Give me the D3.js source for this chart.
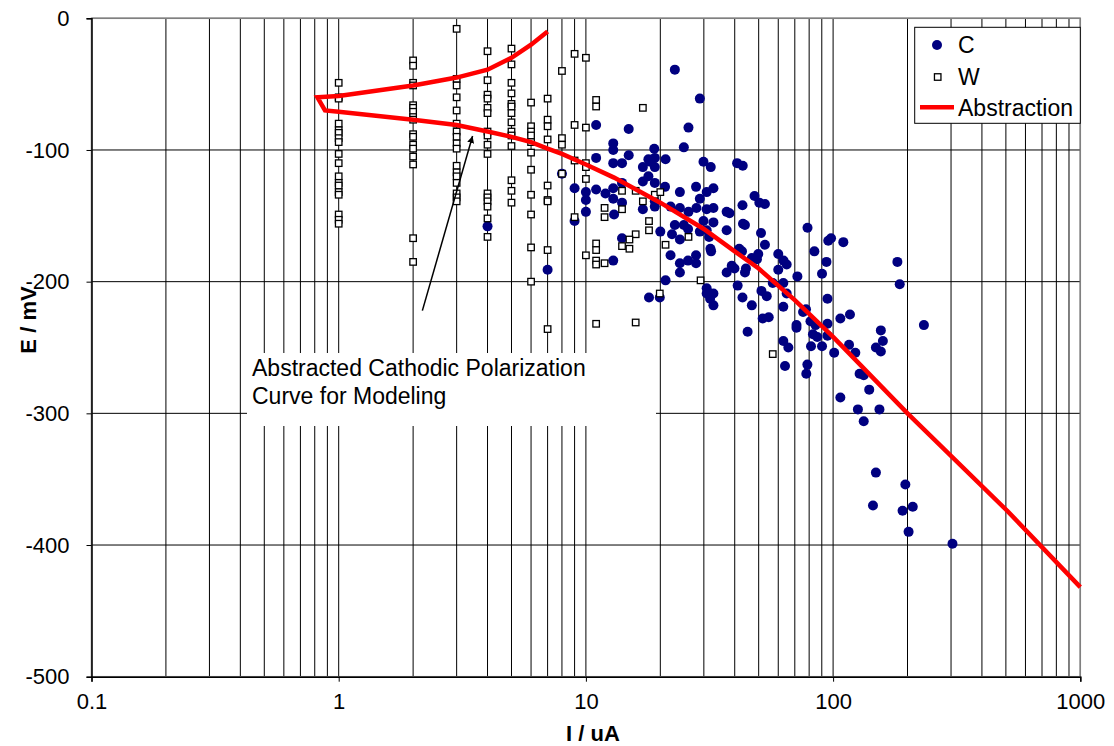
<!DOCTYPE html>
<html>
<head>
<meta charset="utf-8">
<script src="https://cdn.jsdelivr.net/npm/d3@7"></script>
<style>
    body { margin: 0; background: #fff; }
    svg { display: block; }
    text { font-family: "Liberation Sans", Arial, sans-serif; }
</style>
</head>
<body>
<svg id="chart" width="1114" height="746"></svg>
<script>
// C series: [I (uA), E (mV)]
const cPoints = [
    [4.0,-158],[7.0,-191],[8.0,-118],[9.0,-129],[9.0,-154],[10,-132],[10,-138],[10,-147],[11.0,-81],[11.0,-106],
    [11.0,-130],[12.0,-133],[12.9,-95],[12.9,-100],[12.9,-110],[14.0,-110],[14.9,-84],[14.9,-104],[18.9,-99],[24.9,-98],
    [26.0,-83],[22.9,-39],[28.9,-61],[17.9,-107],[19.0,-106],[18.2,-109],[17.0,-113],[19.0,-113],[21.0,-107],[29.9,-109],
    [32.0,-113],[40.9,-110],[43.1,-112],[17.9,-120],[17.0,-124],[19.0,-125],[20.9,-128],[27.9,-128],[32.8,-129],[24.0,-132],
    [30.8,-132],[28.9,-137],[12.9,-129],[12.9,-137],[14.0,-125],[14.0,-140],[13.0,-149],[17.0,-145],[19.0,-139],[19.0,-143],
    [22.0,-143],[24.0,-144],[26.0,-147],[28.0,-144],[30.8,-145],[32.8,-144],[37.1,-147],[38.1,-148],[43.0,-142],[48.1,-135],
    [50.3,-140],[53.0,-141],[43.2,-156],[44.0,-157],[51.1,-163],[53.0,-172],[29.9,-154],[32.8,-155],[22.9,-157],[24.9,-157],
    [25.9,-160],[22.3,-164],[24.0,-168],[28.9,-162],[30.8,-161],[31.5,-166],[37.1,-161],[20.0,-162],[14.0,-167],[31.9,-175],
    [32.1,-177],[41.7,-175],[42.8,-177],[49.8,-179],[46.9,-182],[49.2,-183],[60.0,-179],[63.0,-184],[64.9,-187],[22.0,-180],
    [24.0,-186],[24.0,-193],[27.9,-180],[25.9,-184],[27.9,-186],[12.9,-184],[38.9,-188],[39.9,-190],[37.1,-193],[44.4,-190],
    [44.0,-193],[60.0,-191],[71.7,-196],[90.2,-194],[94.0,-185],[84.0,-177],[78.8,-159],[95.6,-169],[98.1,-167],[110,-170],
    [62.9,-201],[64.9,-209],[57.0,-201],[51.3,-207],[41.1,-203],[43.0,-212],[30.8,-205],[30.8,-209],[32.8,-209],[31.8,-213],
    [32.8,-218],[21.0,-199],[18.0,-212],[19.9,-212],[94.9,-213],[53.9,-211],[46.9,-218],[51.9,-228],[54.9,-227],[62.9,-219],
    [75.6,-223],[77.7,-221],[45.1,-238],[71.1,-233],[71.1,-235],[81.0,-230],[84.9,-233],[82.9,-240],[86.3,-242],[94.9,-232],
    [94.9,-241],[107,-228],[117,-225],[62.9,-245],[65.9,-250],[63.9,-264],[81.4,-249],[90.2,-249],[78.7,-263],[77.9,-270],
    [101,-254],[116,-248],[123,-254],[149,-250],[156,-237],[159,-245],[156,-253],[128,-270],[133,-271],[140,-282],
    [107,-288],[126,-297],[154,-297],[133,-306],[149,-345],[196,-354],[145,-370],[191,-374],[210,-371],[202,-390],
    [304,-399],[182,-185],[186,-202],[233,-233]
];

// W series: most readings sit on whole-number currents
const wColumns = [1, 2, 3, 4, 5, 6, 7, 8, 9, 10];
const wColumnE = [
    [-49,-60,-61,-80,-85,-87,-91,-94,-103,-110,-120,-125,-127,-132,-134,-149,-153,-156],
    [-32,-36,-49,-51,-66,-68,-71,-75,-77,-88,-90,-96,-99,-105,-111,-167,-185],
    [-8,-46,-51,-60,-70,-80,-86,-90,-95,-99,-112,-117,-120,-125,-133,-136,-139],
    [-25,-47,-58,-61,-68,-72,-86,-89,-96,-103,-133,-136,-139,-143,-152,-166],
    [-23,-35,-49,-57,-65,-67,-72,-79,-86,-89,-97,-123,-131,-140],
    [-64,-82,-86,-89,-94,-102,-115,-134,-149,-174,-200],
    [-61,-77,-82,-92,-127,-138,-139,-176,-236],
    [-40,-91,-96,-118],
    [-27,-81,-108,-151],
    [-30,-83,-110,-113,-122,-180]
];
const wExtra = [
    [11.0,-62],[11.0,-67],[17.0,-68],[11.9,-144],[11.9,-151],[14.0,-131],[14.0,-145],[15.9,-131],[17.0,-139],[19.0,-134],
    [20.0,-132],[18.0,-154],[18.0,-161],[15.9,-164],[15.0,-168],[15.0,-175],[14.0,-173],[11.0,-171],[11.0,-176],[11.0,-184],
    [11.0,-187],[11.9,-186],[21.0,-172],[26.0,-166],[29.1,-199],[19.9,-209],[11.0,-232],[15.9,-231],[57.0,-255]
];

// Abstraction curve
const absCurrent = [7, 6, 5, 4, 3, 2, 1, 0.82, 0.88, 1, 2, 3, 4, 5, 6, 7, 8, 10, 13, 20, 30, 40, 50, 70, 100, 200, 500, 1000];
const absPotential = [-10, -20, -30, -39, -45, -51, -59, -60, -70, -71, -77, -81, -86, -90, -94, -99, -103, -111, -121, -140, -160, -177, -190, -214, -242, -300, -373, -432];

const xTicks = [0.1, 1, 10, 100, 1000];
const yTicks = [0, -100, -200, -300, -400, -500];

const svg = d3.select("#chart");
const x = d3.scaleLog().domain([0.1, 1000]).range([91.5, 1080.3]);
const y = d3.scaleLinear().domain([-500, 0]).range([676.7, 18.3]);

// vertical grid on every minor decade step
const gridX = [];
[0.1, 1, 10, 100].forEach(dec => d3.range(1, 10).forEach(k => gridX.push(+(k * dec).toPrecision(3))));
gridX.push(1000);

const grid = svg.append("g");
grid.selectAll("line.v")
    .data(gridX)
    .join("line")
    .attr("class", "v")
    .attr("x1", d => x(d)).attr("x2", d => x(d))
    .attr("y1", y(0)).attr("y2", y(-500))
    .attr("stroke", "#000").attr("stroke-width", 1);
grid.selectAll("line.h")
    .data(yTicks)
    .join("line")
    .attr("class", "h")
    .attr("x1", x(0.1)).attr("x2", x(1000))
    .attr("y1", d => y(d)).attr("y2", d => y(d))
    .attr("stroke", "#000").attr("stroke-width", 1);

// plot frame
svg.append("rect")
    .attr("x", x(0.1)).attr("y", y(0))
    .attr("width", x(1000) - x(0.1)).attr("height", y(-500) - y(0))
    .attr("fill", "none").attr("stroke", "#808080").attr("stroke-width", 1.5);

// axes
const yAxis = svg.append("g")
    .attr("transform", `translate(${x(0.1)},0)`)
    .call(d3.axisLeft(y).tickValues(yTicks).tickSize(5).tickPadding(17).tickFormat(d => String(d)));
const xAxis = svg.append("g")
    .attr("transform", `translate(0,${y(-500)})`)
    .call(d3.axisBottom(x).tickValues(xTicks).tickSize(5).tickPadding(12).tickFormat(d => String(d)));
[yAxis, xAxis].forEach(ax => {
    ax.select(".domain").attr("stroke", "#000").attr("stroke-width", 1.5);
    ax.selectAll(".tick line").attr("stroke", "#000");
    ax.selectAll("text").attr("font-size", "22px").attr("fill", "#000")
        .style("font-family", '"Liberation Sans", Arial, sans-serif');
});

svg.append("text")
    .attr("x", 593).attr("y", 741)
    .attr("text-anchor", "middle")
    .attr("font-size", "22px").attr("font-weight", "bold")
    .text("I / uA");
svg.append("text")
    .attr("transform", "translate(36,320) rotate(-90)")
    .attr("text-anchor", "middle")
    .attr("font-size", "22px").attr("font-weight", "bold")
    .text("E / mV");

// C points
svg.append("g").selectAll("circle")
    .data(cPoints)
    .join("circle")
    .attr("cx", d => x(d[0]))
    .attr("cy", d => y(d[1]))
    .attr("r", 5)
    .attr("fill", "#000080");

// W points
const wPoints = wColumns.flatMap((c, i) => wColumnE[i].map(e => [c, e])).concat(wExtra);
const sq = 6.5;
svg.append("g").selectAll("rect")
    .data(wPoints)
    .join("rect")
    .attr("x", d => x(d[0]) - sq / 2)
    .attr("y", d => y(d[1]) - sq / 2)
    .attr("width", sq).attr("height", sq)
    .attr("fill", "#fff")
    .attr("stroke", "#000")
    .attr("stroke-width", 1.3);

// abstraction line
const absData = absCurrent.map((c, i) => [c, absPotential[i]]);
svg.append("path")
    .datum(absData)
    .attr("d", d3.line().x(d => x(d[0])).y(d => y(d[1])))
    .attr("fill", "none")
    .attr("stroke", "#ff0000")
    .attr("stroke-width", 4.5)
    .attr("stroke-linejoin", "miter");

// annotation arrow
svg.append("defs").append("marker")
    .attr("id", "arrow")
    .attr("viewBox", "0 0 10 10")
    .attr("refX", 10).attr("refY", 5)
    .attr("markerWidth", 7).attr("markerHeight", 7)
    .attr("markerUnits", "userSpaceOnUse")
    .attr("orient", "auto")
    .append("path")
    .attr("d", "M0,0 L10,5 L0,10 z")
    .attr("fill", "#000");
svg.append("line")
    .attr("x1", x(2.18)).attr("y1", y(-222))
    .attr("x2", x(3.48)).attr("y2", y(-89.4))
    .attr("stroke", "#000").attr("stroke-width", 1.5)
    .attr("marker-end", "url(#arrow)");

// annotation text box
svg.append("rect")
    .attr("x", 247).attr("y", 353)
    .attr("width", 409).attr("height", 73)
    .attr("fill", "#fff");
const note = svg.append("text")
    .attr("font-size", "23px").attr("fill", "#000");
note.append("tspan").attr("x", 252).attr("y", 376).text("Abstracted Cathodic Polarization");
note.append("tspan").attr("x", 252).attr("y", 404).text("Curve for Modeling");

// legend
const legend = svg.append("g");
legend.append("rect")
    .attr("x", 914.7).attr("y", 27.3)
    .attr("width", 165.6).attr("height", 96)
    .attr("fill", "#fff").attr("stroke", "#000").attr("stroke-width", 1);
legend.append("circle").attr("cx", 937).attr("cy", 45).attr("r", 5).attr("fill", "#000080");
legend.append("rect").attr("x", 937.7 - sq / 2).attr("y", 77 - sq / 2).attr("width", sq).attr("height", sq)
    .attr("fill", "#fff").attr("stroke", "#000").attr("stroke-width", 1.3);
legend.append("line").attr("x1", 920).attr("x2", 954).attr("y1", 107.3).attr("y2", 107.3)
    .attr("stroke", "#ff0000").attr("stroke-width", 4.5);
legend.selectAll("text.lab")
    .data([["C", 53], ["W", 85.3], ["Abstraction", 116]])
    .join("text")
    .attr("class", "lab")
    .attr("x", 958).attr("y", d => d[1])
    .attr("font-size", "23px")
    .text(d => d[0]);
</script>
</body>
</html>
